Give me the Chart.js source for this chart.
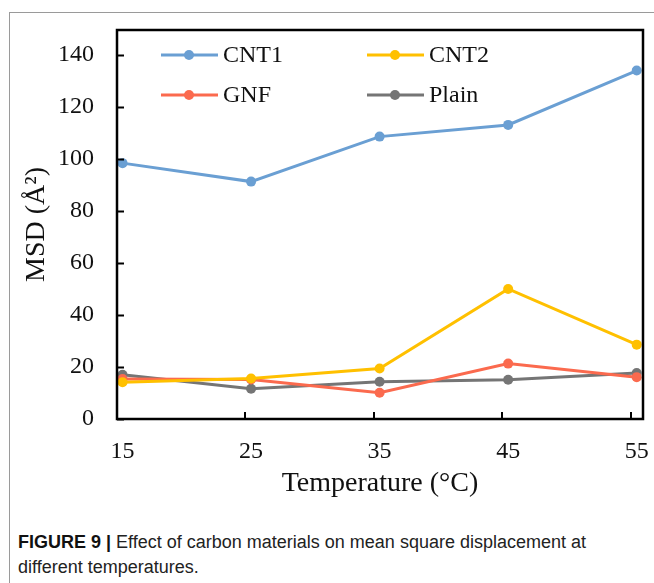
<!DOCTYPE html>
<html>
<head>
<meta charset="utf-8">
<script src="https://cdn.jsdelivr.net/npm/chart.js@4"></script>
<style>
  body { margin: 0; background: #fff; }
  #wrap { position: relative; width: 654px; height: 583px; overflow: hidden; }
  #frame { position: absolute; left: 9px; top: 12px; width: 660px; height: 600px;
           border-left: 1px solid #9a9a9a; border-top: 1px solid #9a9a9a; }
  #box { position: absolute; left: 0; top: 0; width: 654px; height: 510px; }
  #caption { position: absolute; left: 18px; top: 530px; width: 630px;
             font-family: "Liberation Sans", Arial, sans-serif;
             font-size: 18px; line-height: 25px; color: #222; }
  #caption b { color: #111; }
</style>
</head>
<body>
<div id="wrap">
  <div id="frame"></div>
  <div id="box"><canvas id="chart"></canvas></div>
  <div id="caption"><b>FIGURE 9 |</b> Effect of carbon materials on mean square displacement at<br>different temperatures.</div>
</div>
<script>
// values
const temps = [15, 25, 35, 45, 55];
const seriesNames = ["CNT1", "CNT2", "GNF", "Plain"];
const cnt1 = [98.4, 91.3, 108.6, 113.1, 134.0];
const cnt2 = [14.1, 15.6, 19.4, 50.0, 28.6];
const gnf = [15.4, 15.2, 10.1, 21.3, 16.1];
const plain = [17.0, 11.6, 14.3, 15.1, 17.7];
const yTicks = [0, 20, 40, 60, 80, 100, 120, 140];
const colors = ["#6a9fd3", "#ffc000", "#fb6a4e", "#757575"];

const allSeries = [cnt1, cnt2, gnf, plain];
const serif = "'Liberation Serif', 'Times New Roman', serif";

const datasets = allSeries.map(function (vals, i) {
  return {
    label: seriesNames[i],
    data: temps.map(function (t, j) { return { x: t, y: vals[j] }; }),
    borderColor: colors[i],
    backgroundColor: colors[i],
    borderWidth: 3,
    pointRadius: 5,
    pointHoverRadius: 5,
    pointBorderWidth: 0,
    tension: 0
  };
});

// inner ticks, plot box and the 2x2 legend inside the plot
const decor = {
  id: "decor",
  afterDraw(chart) {
    const ctx = chart.ctx;
    const a = chart.chartArea;
    const xs = chart.scales.x, ys = chart.scales.y;
    ctx.save();
    ctx.strokeStyle = "#000";
    ctx.lineWidth = 2;
    yTicks.forEach(function (v) {
      const y = Math.round(ys.getPixelForValue(v)) + 0.5;
      ctx.beginPath(); ctx.moveTo(a.left, y); ctx.lineTo(a.left + 7, y); ctx.stroke();
    });
    temps.forEach(function (t) {
      const x = Math.round(xs.getPixelForValue(t)) - 6;
      ctx.beginPath(); ctx.moveTo(x, a.bottom); ctx.lineTo(x, a.bottom - 7); ctx.stroke();
    });
    ctx.lineWidth = 2.5;
    ctx.strokeRect(a.left, a.top, a.right - a.left, a.bottom - a.top);

    const cols = [161, 367], rows = [55, 95];
    ctx.font = "24px " + serif;
    ctx.textBaseline = "middle";
    chart.data.datasets.forEach(function (ds, i) {
      const x0 = cols[i % 2], y = rows[Math.floor(i / 2)];
      ctx.strokeStyle = ds.borderColor;
      ctx.lineWidth = 3;
      ctx.beginPath(); ctx.moveTo(x0, y); ctx.lineTo(x0 + 57, y); ctx.stroke();
      ctx.fillStyle = ds.backgroundColor;
      ctx.beginPath(); ctx.arc(x0 + 28, y, 5, 0, Math.PI * 2); ctx.fill();
      ctx.fillStyle = "#111";
      ctx.fillText(ds.label, x0 + 62, y + 1);
    });
    ctx.restore();
  }
};

new Chart(document.getElementById("chart"), {
  type: "line",
  data: { datasets: datasets },
  options: {
    responsive: true,
    maintainAspectRatio: false,
    animation: false,
    layout: { padding: { left: 0, top: 30, right: 11, bottom: 10 } },
    plugins: { legend: { display: false }, tooltip: { enabled: false } },
    scales: {
      x: {
        type: "linear",
        min: 14.57,
        max: 55.49,
        afterBuildTicks(scale) { scale.ticks = temps.map(function (t) { return { value: t }; }); },
        afterFit(scale) { scale.height = 81; scale.paddingLeft = 0; scale.paddingRight = 0; },
        grid: { display: false, drawTicks: false },
        border: { display: false },
        ticks: { color: "#111", padding: 18, maxRotation: 0, font: { family: serif, size: 24 } },
        title: { display: true, text: "Temperature (°C)", color: "#111",
                 font: { family: serif, size: 28 }, padding: { top: 0, bottom: 0 } }
      },
      y: {
        min: 0,
        max: 149.6,
        afterBuildTicks(scale) { scale.ticks = yTicks.map(function (v) { return { value: v }; }); },
        afterFit(scale) { scale.width = 117; scale.paddingTop = 0; scale.paddingBottom = 0; },
        grid: { display: false, drawTicks: false },
        border: { display: false },
        ticks: { color: "#111", padding: 23, font: { family: serif, size: 24 } },
        title: { display: true, text: "MSD (Å²)", color: "#111",
                 font: { family: serif, size: 28 }, padding: { top: 20, bottom: 0 } }
      }
    }
  },
  plugins: [decor]
});
</script>
</body>
</html>
